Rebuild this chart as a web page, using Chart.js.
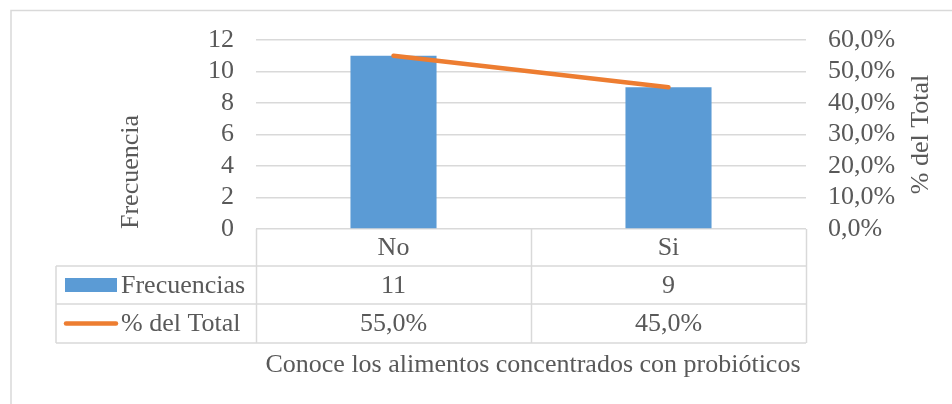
<!DOCTYPE html>
<html>
<head>
<meta charset="utf-8">
<script src="https://cdn.jsdelivr.net/npm/chart.js@4.4.1/dist/chart.umd.min.js"></script>
<style>
  html, body { margin: 0; padding: 0; background: #fff; }
  #wrap { position: relative; width: 952px; height: 404px; }
</style>
</head>
<body>
<div id="wrap"><canvas id="chart" width="952" height="404"></canvas></div>
<script>
// --- data ---
const categories = ['No', 'Si'];
const frecuencias = [11, 9];
const porcentajes = [0.55, 0.45];
const leftTicks = [0, 2, 4, 6, 8, 10, 12];
const rightTicks = [0, 0.1, 0.2, 0.3, 0.4, 0.5, 0.6];
const xTitle = 'Conoce los alimentos concentrados con probióticos';

const FONT = "'Liberation Serif', 'Times New Roman', serif";
const FSIZE = 26;
const TEXT = '#595959';
const GRID = '#D9D9D9';
const BLUE = '#5B9BD5';
const ORANGE = '#ED7D31';

const fmtPct = v => (v * 100).toFixed(1).replace('.', ',') + '%';

// draws the frame, the data table under the plot, the right title and x title
const tablePlugin = {
    id: 'dataTable',
    afterDraw(chart) {
        const ctx = chart.ctx;
        const area = chart.chartArea;
        const x = chart.scales.x;
        const rowH = [37, 38, 39];
        const top = area.bottom;
        const r1 = top + rowH[0], r2 = r1 + rowH[1], r3 = r2 + rowH[2];
        const legendLeft = 56;
        const colW = (area.right - area.left) / categories.length;
        const bars = chart.data.datasets.find(d => d.type === 'bar');
        const line = chart.data.datasets.find(d => d.type === 'line');

        ctx.save();
        // outer frame (only top and left show in the picture)
        ctx.strokeStyle = GRID;
        ctx.lineWidth = 1.5;
        ctx.beginPath();
        ctx.moveTo(11, 404); ctx.lineTo(11, 10.5); ctx.lineTo(952, 10.5);
        ctx.stroke();

        // table lines
        ctx.beginPath();
        for (let i = 0; i <= categories.length; i++) {
            const cx = Math.round(area.left + i * colW) + 0.5;
            ctx.moveTo(cx, top); ctx.lineTo(cx, r3);
        }
        ctx.moveTo(legendLeft, r1); ctx.lineTo(area.right, r1);
        ctx.moveTo(legendLeft, r2); ctx.lineTo(area.right, r2);
        ctx.moveTo(legendLeft, r3); ctx.lineTo(area.right, r3);
        ctx.moveTo(legendLeft, r1); ctx.lineTo(legendLeft, r3);
        ctx.stroke();

        // cells
        ctx.fillStyle = TEXT;
        ctx.font = `${FSIZE}px ${FONT}`;
        ctx.textAlign = 'center';
        ctx.textBaseline = 'middle';
        categories.forEach((c, i) => {
            const cx = x.getPixelForValue(i);
            ctx.fillText(c, cx, (top + r1) / 2 + 1);
            ctx.fillText(String(frecuencias[i]), cx, (r1 + r2) / 2 + 1);
            ctx.fillText(fmtPct(porcentajes[i]), cx, (r2 + r3) / 2 + 1);
        });

        // legend keys inside table
        ctx.fillStyle = BLUE;
        ctx.fillRect(65, r1 + 12, 52, 14);
        ctx.strokeStyle = ORANGE;
        ctx.lineWidth = 4.5;
        ctx.lineCap = 'round';
        ctx.beginPath();
        ctx.moveTo(66, (r2 + r3) / 2); ctx.lineTo(116, (r2 + r3) / 2);
        ctx.stroke();
        ctx.fillStyle = TEXT;
        ctx.textAlign = 'left';
        ctx.fillText(bars.label, 121, (r1 + r2) / 2 + 1);
        ctx.fillText(line.label, 121, (r2 + r3) / 2 + 1);

        // x axis title
        ctx.textAlign = 'center';
        ctx.fillText(xTitle, (area.left + area.right) / 2 + 2, 365);

        // right axis title, reading bottom to top
        ctx.translate(921, (area.top + area.bottom) / 2);
        ctx.rotate(-Math.PI / 2);
        ctx.fillText('% del Total', 0, 0);
        ctx.restore();
    }
};

new Chart(document.getElementById('chart'), {
    data: {
        labels: categories,
        datasets: [
            {
                type: 'line',
                label: '% del Total',
                data: porcentajes,
                yAxisID: 'y1',
                borderColor: ORANGE,
                borderWidth: 4.5,
                borderCapStyle: 'round',
                pointRadius: 0,
                order: 0
            },
            {
                type: 'bar',
                label: 'Frecuencias',
                data: frecuencias,
                yAxisID: 'y',
                backgroundColor: BLUE,
                barPercentage: 0.313,
                categoryPercentage: 1,
                order: 1
            }
        ]
    },
    options: {
        responsive: false,
        animation: false,
        events: [],
        layout: { padding: { left: 0, right: 0, top: 40, bottom: 175 } },
        plugins: { legend: { display: false }, tooltip: { enabled: false } },
        scales: {
            x: { display: false, offset: true },
            y: {
                position: 'left',
                min: 0, max: 12,
                afterBuildTicks: s => { s.ticks = leftTicks.map(v => ({ value: v })); },
                afterFit: s => { s.width = 256; },
                ticks: { color: TEXT, font: { family: FONT, size: FSIZE }, padding: 22, autoSkip: false },
                grid: { color: GRID, lineWidth: 1.5, drawTicks: false },
                border: { display: false },
                title: {
                    display: true, text: 'Frecuencia', align: 'start',
                    color: TEXT, font: { family: FONT, size: FSIZE },
                    padding: { top: 116, bottom: 0 }
                }
            },
            y1: {
                position: 'right',
                min: 0, max: 0.6,
                afterBuildTicks: s => { s.ticks = rightTicks.map(v => ({ value: v })); },
                afterFit: s => { s.width = 146; },
                ticks: { color: TEXT, font: { family: FONT, size: FSIZE }, padding: 22, autoSkip: false, callback: v => fmtPct(v) },
                grid: { display: false, drawTicks: false },
                border: { display: false }
            }
        }
    },
    plugins: [tablePlugin]
});
</script>
</body>
</html>
